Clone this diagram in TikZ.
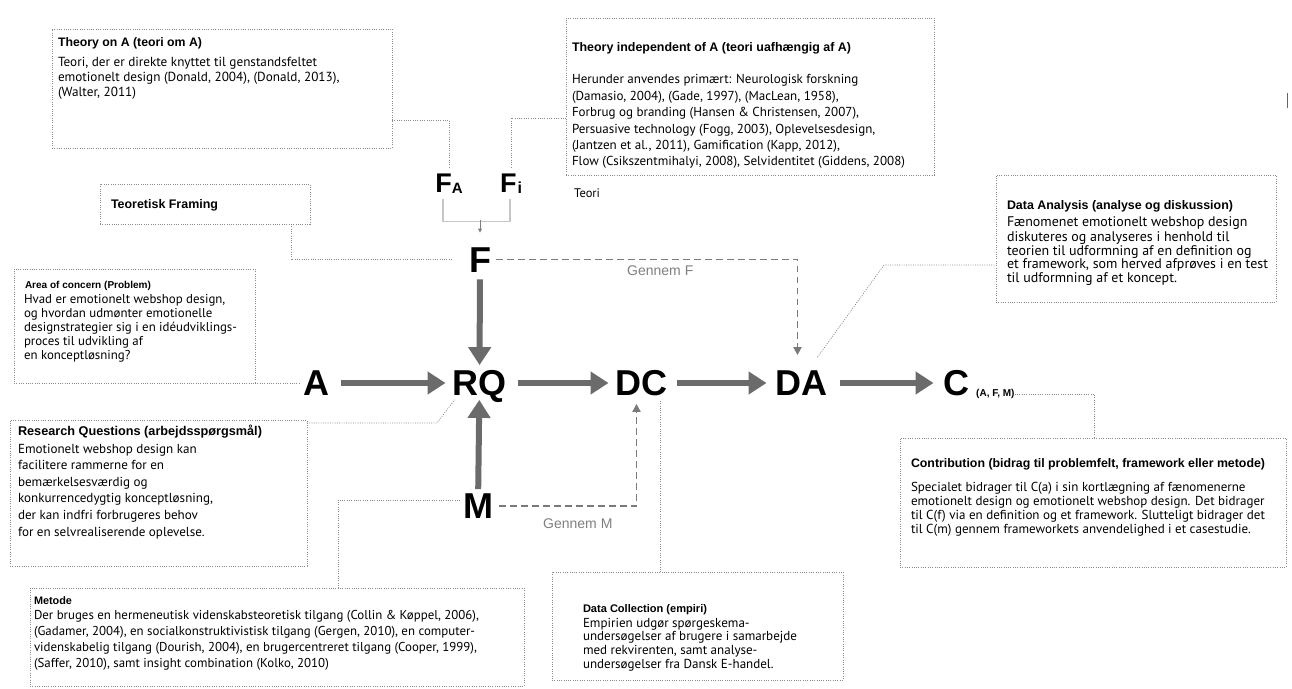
\documentclass[tikz,border=0pt]{standalone}
\usepackage{fontspec}
\setmainfont{PT Sans}
\newfontfamily\helv{Liberation Sans}
\usetikzlibrary{calc,arrows.meta}

\definecolor{flowgrey}{HTML}{6B6B6B}
\definecolor{viagrey}{HTML}{7A7A7A}
\definecolor{dotgrey}{HTML}{8A8A8A}
\definecolor{notegrey}{HTML}{808080}
\definecolor{bracegrey}{HTML}{C6C6C6}

% font size that gives a sample line the wanted width (result in \fitsz)
\newcommand\fitsize[3]{%
  \setbox0=\hbox{#1\fontsize{10}{12}\selectfont #2}%
  \pgfmathsetmacro\fitsz{10*#3/\the\wd0}}
\newcommand\sz[2]{\fontsize{#1}{#2}\selectfont}

\begin{document}
% ---------- font sizes
\fitsize{\normalfont}{Teori, der er direkte knyttet til genstandsfeltet}{259}\let\bThA\fitsz
\fitsize{\normalfont}{Flow (Csikszentmihalyi, 2008), Selvidentitet (Giddens, 2008)}{333}\let\bThI\fitsz
\fitsize{\normalfont}{designstrategier sig i en idéudviklings-}{213}\let\bAoc\fitsz
\fitsize{\normalfont}{konkurrencedygtig konceptløsning,}{195}\let\bRq\fitsz
\fitsize{\normalfont}{Der bruges en hermeneutisk videnskabsteoretisk tilgang (Collin \& Køppel, 2006),}{445}\let\bMet\fitsz
\fitsize{\normalfont}{undersøgelser af brugere i samarbejde}{214}\let\bDc\fitsz
\fitsize{\normalfont}{et framework, som herved afprøves i en test}{261}\let\bDa\fitsz
\fitsize{\normalfont}{til C(m) gennem frameworkets anvendelighed i et casestudie.}{340}\let\bCon\fitsz
\fitsize{\helv\bfseries}{Theory on A (teori om A)}{144}\let\tThA\fitsz
\fitsize{\helv\bfseries}{Theory independent of A (teori uafhængig af A)}{279}\let\tThI\fitsz
\fitsize{\helv\bfseries}{Teoretisk Framing}{107}\let\tFr\fitsz
\fitsize{\helv\bfseries}{Area of concern (Problem)}{126}\let\tAoc\fitsz
\fitsize{\helv\bfseries}{Research Questions (arbejdsspørgsmål)}{244}\let\tRq\fitsz
\fitsize{\helv\bfseries}{Metode}{38}\let\tMet\fitsz
\fitsize{\helv\bfseries}{Data Collection (empiri)}{124}\let\tDc\fitsz
\fitsize{\helv\bfseries}{Data Analysis (analyse og diskussion)}{226}\let\tDa\fitsz
\fitsize{\helv\bfseries}{Contribution (bidrag til problemfelt, framework eller metode)}{354}\let\tCon\fitsz
\begin{tikzpicture}[x=1pt,y=-1pt,
  box/.style={draw=dotgrey, line width=0.8pt, dash pattern=on 0.9pt off 1.4pt,
    inner sep=0pt, outer sep=0pt, anchor=north west},
  link/.style={draw=dotgrey, line width=0.8pt, dash pattern=on 0.9pt off 1.4pt},
  ttl/.style={anchor=base west, inner sep=0pt, outer sep=0pt},
  body/.style={anchor=north west, inner sep=0pt, outer sep=0pt, align=left},
  letter/.style={inner sep=0pt, outer sep=0pt, text height=25.8pt, text depth=0pt,
    font=\helv\bfseries\sz{36}{36}},
  flow/.style={draw=flowgrey, line width=6pt, -{Triangle[length=18pt,width=22pt]}},
  via/.style={draw=viagrey, line width=1.9pt, dash pattern=on 6.5pt off 4.5pt,
    -{Triangle[length=8pt,width=8pt]}},
  via label/.style={anchor=west, inner sep=0pt, text=notegrey, font=\helv\sz{14}{16}},
  brace/.style={draw=bracegrey, line width=1.2pt},
  tiny arrow/.style={draw=notegrey, line width=0.8pt, -{Triangle[length=4pt,width=4pt]}}
]
\fill[white] (0,0) rectangle (1292,688);
\useasboundingbox (0,0) rectangle (1292,688);

% ---------- main chain
\node[letter] (A)  at (316.5,383) {A};
\node[letter] (RQ) at (479.5,383) {RQ};
\node[letter] (DC) at (641.5,383) {DC};
\node[letter] (DA) at (801.5,383) {DA};
\node[letter] (C)  at (956.5,383) {C};
\node[anchor=base west, inner sep=0pt, font=\helv\bfseries\sz{10}{10}] (Csub) at (976,396.5) {(A, F, M)};
\node[letter] (F)  at (480,259.5) {F};
\node[letter] (M)  at (478,506) {M};

\node[anchor=base, inner sep=0pt, font=\helv\bfseries] (fA) at (449,192)
  {\sz{27}{27}F\sz{15}{15}\raisebox{-1pt}{A}};
\node[anchor=base, inner sep=0pt, font=\helv\bfseries] (fI) at (511,192)
  {\sz{27}{27}F\kern1pt\sz{16}{16}\raisebox{-1pt}{i}};
\node[anchor=west, inner sep=0pt, font=\sz{12.5}{14}] (teori) at (574,193) {Teori};

\draw[flow, shorten <=11pt, shorten >=7pt] (A) -- (RQ);
\draw[flow, shorten <=11pt, shorten >=7pt] (RQ) -- (DC);
\draw[flow, shorten <=9pt, shorten >=9pt] (DC) -- (DA);
\draw[flow, shorten <=12pt, shorten >=10pt] (DA) -- (C);
\draw[flow, shorten <=7pt, shorten >=5pt] (F) -- (RQ);
\draw[flow, shorten <=4pt, shorten >=4pt] (M) -- (RQ);

\draw[via, shorten <=5pt, shorten >=15pt] (F.east) -| ([xshift=-4pt]DA.north);
\node[via label] (viaF) at (627,271) {Gennem F};
\draw[via, shorten <=6pt, shorten >=8pt] (M.east) -| ([xshift=-5pt]DC.south);
\node[via label] (viaM) at (543,524) {Gennem M};

\draw[brace] ($(fA.south)+(-6,6)$) |- ($(fI.south)+(-1,28)$) -- ($(fI.south)+(-1,6)$);
\draw[tiny arrow] ($(F.north)+(0,-27)$) -- ($(F.north)+(0,-14)$);

% ---------- Theory on A
\node[box, minimum width=340, minimum height=119] (thA) at (52,29) {};
\node[ttl, font=\helv\bfseries\sz{\tThA}{16}] (thAt) at (58,46.4) {Theory on A (teori om A)};
\node[body, font=\sz{\bThA}{15}] (thAb) at (58,55.5) {\strut Teori, der er direkte knyttet til genstandsfeltet\\
  emotionelt design (Donald, 2004), (Donald, 2013),\\(Walter, 2011)};
\draw[link, shorten >=6pt] ($(thA.south east)+(0,-28)$) -| (fA.north);

% ---------- Theory independent of A
\node[box, minimum width=368, minimum height=157] (thI) at (566,18) {};
\node[ttl, font=\helv\bfseries\sz{\tThI}{16}] (thIt) at (572,51.4) {Theory independent of A (teori uafhængig af A)};
\node[body, font=\sz{\bThI}{16.4}] (thIb) at (572,72.5) {\strut Herunder anvendes primært: Neurologisk forskning\\
  (Damasio, 2004), (Gade, 1997), (MacLean, 1958),\\
  Forbrug og branding (Hansen \& Christensen, 2007),\\
  Persuasive technology (Fogg, 2003), Oplevelsesdesign,\\
  (Jantzen et al., 2011), Gamification (Kapp, 2012),\\
  Flow (Csikszentmihalyi, 2008), Selvidentitet (Giddens, 2008)};
\draw[link, shorten >=6pt] ($(thI.south west)+(0,-57)$) -| (fI.north);

% ---------- Teoretisk Framing
\node[box, minimum width=210, minimum height=40] (frame) at (100,184) {};
\node[ttl, font=\helv\bfseries\sz{\tFr}{16}] (framet) at (111,208.4) {Teoretisk Framing};
\draw[link, shorten >=16pt] ($(frame.south east)+(-19,0)$) |- (F.west);

% ---------- Area of concern
\node[box, minimum width=241, minimum height=114] (aoc) at (14,269) {};
\node[ttl, font=\helv\bfseries\sz{\tAoc}{16}] (aoct) at (25,288) {Area of concern (Problem)};
\node[body, font=\sz{\bAoc}{14}] (aocb) at (24,293.2) {\strut Hvad er emotionelt webshop design,\\
  og hvordan udmønter emotionelle\\designstrategier sig i en idéudviklings-\\
  proces til udvikling af\\en konceptløsning?};
\draw[link, shorten >=4pt] (aoc.south east) -- (A.west);

% ---------- Research Questions
\node[box, minimum width=297, minimum height=146] (rq) at (10,420) {};
\node[ttl, font=\helv\bfseries\sz{\tRq}{16}] (rqt) at (18,435.5) {Research Questions (arbejdsspørgsmål)};
\node[body, font=\sz{\bRq}{16.6}] (rqb) at (18,441.4) {\strut Emotionelt webshop design kan\\
  facilitere rammerne for en\\bemærkelsesværdig og\\konkurrencedygtig konceptløsning,\\
  der kan indfri forbrugeres behov\\for en selvrealiserende oplevelse.};
\draw[link] ($(rq.north east)+(0,3)$) -- ++(130,0) -- ($(RQ.south west)+(2,4)$);

% ---------- Metode
\node[box, minimum width=494, minimum height=98] (met) at (30,588) {};
\node[ttl, font=\helv\bfseries\sz{\tMet}{16}] (mett) at (34,604) {Metode};
\node[body, font=\sz{\bMet}{16.3}] (metb) at (34,607.6) {\strut Der bruges en hermeneutisk videnskabsteoretisk tilgang (Collin \& Køppel, 2006),\\
  (Gadamer, 2004), en socialkonstruktivistisk tilgang (Gergen, 2010), en computer-\\
  videnskabelig tilgang (Dourish, 2004), en brugercentreret tilgang (Cooper, 1999),\\
  (Saffer, 2010), samt insight combination (Kolko, 2010)};
\draw[link] ($(met.north west)+(308,0)$) |- ($(M.west)+(-3,-6)$);

% ---------- Data Collection
\node[box, minimum width=291, minimum height=108] (dc) at (552,572) {};
\node[ttl, font=\helv\bfseries\sz{\tDc}{16}] (dct) at (583,612) {Data Collection (empiri)};
\node[body, font=\sz{\bDc}{13.8}] (dcb) at (583,617.5) {\strut Empirien udgør spørgeskema-\\
  undersøgelser af brugere i samarbejde\\med rekvirenten, samt analyse-\\
  undersøgelser fra Dansk E-handel.};
\coordinate (dcj) at ($(dc.north west)+(108,0)$);
\draw[link, shorten >=4pt] (dcj) -- (dcj |- DC.south);

% ---------- Data Analysis
\node[box, minimum width=280, minimum height=127] (da) at (996,175) {};
\node[ttl, font=\helv\bfseries\sz{\tDa}{16}] (dat) at (1007,209.4) {Data Analysis (analyse og diskussion)};
\node[body, font=\sz{\bDa}{13.6}] (dab) at (1007,216.7) {\strut Fænomenet emotionelt webshop design\\
  diskuteres og analyseres i henhold til\\teorien til udformning af en definition og\\
  et framework, som herved afprøves i en test\\til udformning af et koncept.};
\draw[link] ($(DA.north east)+(-10,-13)$) -- ($(da.south west)+(-112,-37)$) -- ($(da.south west)+(0,-37)$);

% ---------- Contribution
\node[box, minimum width=386, minimum height=129] (con) at (900,438) {};
\node[ttl, font=\helv\bfseries\sz{\tCon}{16}] (cont) at (911,467.4) {Contribution (bidrag til problemfelt, framework eller metode)};
\node[body, font=\sz{\bCon}{14.2}] (conb) at (911,481.2) {\strut Specialet bidrager til C(a) i sin kortlægning af fænomenerne\\
  emotionelt design og emotionelt webshop design. Det bidrager\\
  til C(f) via en definition og et framework. Slutteligt bidrager det\\
  til C(m) gennem frameworkets anvendelighed i et casestudie.};
\draw[link] (Csub.east) -| ($(con.north west)+(194,0)$);

% short rule at the right edge
\draw[draw=black!60, line width=1pt] (1287,93) -- (1287,108);
\end{tikzpicture}
\end{document}
